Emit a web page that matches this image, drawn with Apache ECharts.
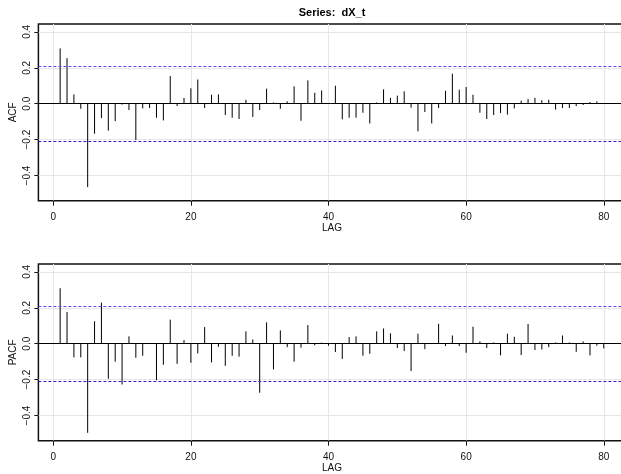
<!DOCTYPE html>
<html><head><meta charset="utf-8">
<script src="https://cdn.jsdelivr.net/npm/echarts@6/dist/echarts.min.js"></script>
<style>html,body{margin:0;padding:0;background:#fff}#c{width:621px;height:474px}</style>
</head><body><div id="c"></div>
<script>
const title = 'Series:  dX_t';
const acfValues = [0.308,0.254,0.052,-0.028,-0.464,-0.167,-0.080,-0.150,-0.097,-0.005,
 -0.035,-0.202,-0.026,-0.024,-0.078,-0.093,0.154,-0.013,0.032,0.086,
 0.135,-0.024,0.050,0.052,-0.063,-0.078,-0.085,0.022,-0.074,-0.035,
 0.084,0.007,-0.028,0.013,0.097,-0.095,0.130,0.061,0.074,0.003,
 0.100,-0.087,-0.078,-0.078,-0.050,-0.110,0.007,0.080,0.033,0.045,
 0.069,-0.022,-0.154,-0.046,-0.110,-0.024,0.072,0.167,0.078,0.093,
 0.050,-0.050,-0.085,-0.063,-0.052,-0.061,-0.026,0.017,0.026,0.033,
 0.020,0.022,-0.033,-0.024,-0.024,-0.013,-0.007,0.009,0.013,0.002];
const pacfValues = [0.309,0.177,-0.076,-0.076,-0.496,0.125,0.229,-0.195,-0.100,-0.227,
 0.041,-0.078,-0.067,0.003,-0.203,-0.117,0.134,-0.112,0.020,-0.106,
 -0.054,0.093,-0.104,-0.017,-0.123,-0.067,-0.072,0.069,0.024,-0.273,
 0.119,-0.143,0.074,-0.019,-0.100,-0.022,0.104,-0.009,0.006,-0.011,
 -0.046,-0.085,0.037,0.041,-0.067,-0.056,0.069,0.085,0.058,-0.024,
 -0.041,-0.152,0.056,-0.030,0.004,0.111,-0.013,0.046,-0.013,-0.050,
 0.095,0.013,-0.024,0.007,-0.065,0.056,0.039,-0.063,0.110,-0.035,
 -0.032,-0.019,0.007,0.046,0.007,-0.045,0.013,-0.065,-0.011,-0.026];
const xTicks = [0,20,40,60,80];
const yTicks = [-0.4,-0.2,0.0,0.2,0.4];
const bound = 0.21;
const panelNames = ['ACF','PACF'];
const xName = 'LAG';

const FONT = '"Liberation Sans", Arial, sans-serif';
const XMIN = -2.16, XMAX = 83.16, YMIN = -0.54, YMAX = 0.444;
const chart = echarts.init(document.getElementById('c'), null, {renderer:'canvas'});
const fmtY = v => (v < 0 ? '\u2212' : '') + Math.abs(v).toFixed(1);

function mkX(i){
  return {type:'value', gridIndex:i, min:XMIN, max:XMAX, name:xName, nameLocation:'middle', nameGap:22,
    nameTextStyle:{fontFamily:FONT,fontSize:10,color:'#111'},
    axisLine:{show:false, onZero:false},
    axisTick:{show:true, length:5, customValues:xTicks, lineStyle:{color:'#111',width:1}},
    axisLabel:{customValues:xTicks, margin:12, fontFamily:FONT, fontSize:10, color:'#111'},
    splitLine:{show:true, lineStyle:{color:'#e6e6e6', width:1}}};
}
function mkY(i){
  return {type:'value', gridIndex:i, min:YMIN, max:YMAX,
    axisLine:{show:false, onZero:false},
    axisTick:{show:true, length:4, customValues:yTicks, lineStyle:{color:'#111',width:1}},
    axisLabel:{show:false, customValues:yTicks},
    splitLine:{show:true, lineStyle:{color:'#e6e6e6', width:1}}};
}
function yText(i){
  return {type:'custom', xAxisIndex:i, yAxisIndex:i, silent:true, z:5, clip:false,
    data:[[XMIN, 0]],
    renderItem:(params, api)=>{
      const ch = [];
      yTicks.forEach(t=>{
        const p = api.coord([XMIN, t]);
        ch.push({type:'text', x:p[0]-11, y:p[1], rotation:Math.PI/2,
          style:{text:fmtY(t), fontFamily:FONT, fontSize:10, fill:'#111', align:'center', verticalAlign:'middle'}});
      });
      const top = api.coord([XMIN, YMAX]), bot = api.coord([XMIN, YMIN]);
      ch.push({type:'text', x:top[0]-25, y:(top[1]+bot[1])/2, rotation:Math.PI/2,
        style:{text:panelNames[i], fontFamily:FONT, fontSize:10, fill:'#111', align:'center', verticalAlign:'middle'}});
      return {type:'group', children:ch};
    }};
}
function refLines(i){
  return {type:'line', xAxisIndex:i, yAxisIndex:i, silent:true, z:3, data:[], showSymbol:false,
    markLine:{silent:true, symbol:'none', label:{show:false}, animation:false,
      data:[
        {yAxis:0, lineStyle:{color:'#000', width:1, type:'solid'}},
        {yAxis:bound, lineStyle:{color:'#6244f5', width:1, type:[3,2]}},
        {yAxis:-bound, lineStyle:{color:'#3a20c8', width:1, type:[3,2]}}
      ]}};
}
function spikes(i, vals){
  return {type:'custom', xAxisIndex:i, yAxisIndex:i, z:4,
    data: vals.map((v,k)=>[k+1, v]),
    encode:{x:0,y:1},
    renderItem:(params, api)=>{
      const a=api.coord([api.value(0),0]), b=api.coord([api.value(0),api.value(1)]);
      return {type:'line', shape:{x1:a[0],y1:a[1],x2:b[0],y2:b[1]}, style:{stroke:'#000',lineWidth:1}};
    }};
}
chart.setOption({
  animation:false,
  backgroundColor:'#fff',
  title:{text:title, left:332, top:7, padding:0, textAlign:'center', textStyle:{fontFamily:FONT, fontSize:11, fontWeight:'bold', color:'#000'}},
  grid:[
    {left:38.4, top:24, width:587.1, height:176.7, outerBoundsMode:'none', containLabel:false, show:true, borderColor:'#111', borderWidth:1.5, backgroundColor:'transparent'},
    {left:38.4, top:264, width:587.1, height:176.7, outerBoundsMode:'none', containLabel:false, show:true, borderColor:'#111', borderWidth:1.5, backgroundColor:'transparent'}
  ],
  xAxis:[mkX(0), mkX(1)],
  yAxis:[mkY(0), mkY(1)],
  series:[refLines(0), spikes(0, acfValues), yText(0), refLines(1), spikes(1, pacfValues), yText(1)]
});
</script></body></html>
